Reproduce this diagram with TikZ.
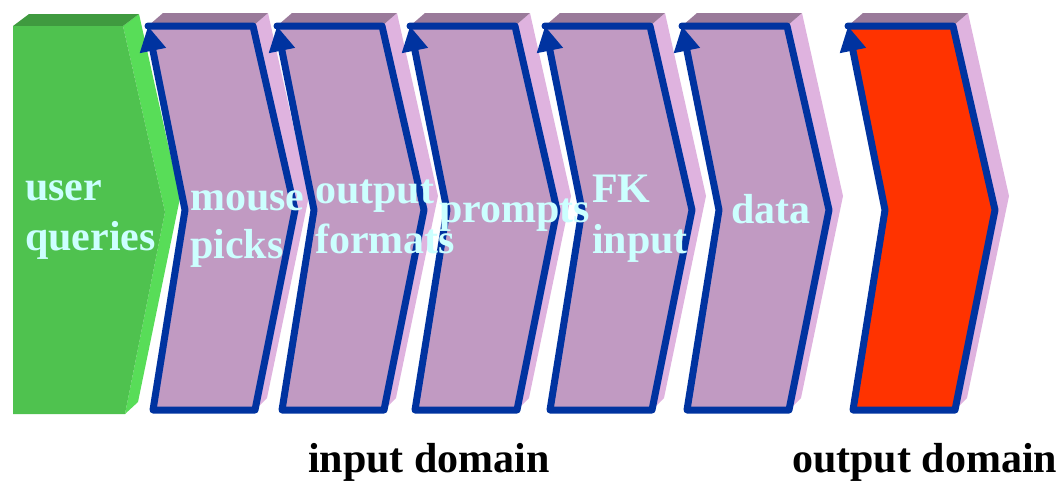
\documentclass[tikz,border=0pt]{standalone}
\usepackage{fontspec}
\setmainfont{Liberation Serif}
\usetikzlibrary{arrows.meta}

\definecolor{chevfront}{HTML}{C19AC2}
\definecolor{chevside}{HTML}{DFB3DF}
\definecolor{chevtop}{HTML}{9A7A9A}
\definecolor{edgeblue}{HTML}{0033A0}
\definecolor{labelcyan}{HTML}{CCFFFF}
\definecolor{greenfront}{HTML}{4FC24F}
\definecolor{greenside}{HTML}{58DD58}
\definecolor{greentop}{HTML}{3F9A3F}
\definecolor{outred}{HTML}{FF3300}

\tikzset{
  chevedge/.style={draw=edgeblue, line width=7pt, line join=round, line cap=round,
    -{Triangle[length=25pt,width=25pt]}},
  steplabel/.style={anchor=base west, inner sep=0pt, text=labelcyan,
    font=\fontsize{42}{50}\selectfont\bfseries},
  domainlabel/.style={anchor=base west, inner sep=0pt, text=black,
    font=\fontsize{42}{50}\selectfont\bfseries},
}

% one extruded chevron: #1 = left x of the front face, #2 = front colour
\newcommand{\drawchevron}[2]{%
  \begin{scope}[shift={(#1,0)}]
    \fill[chevside] (105,26) -- (120,13) -- (161,196) -- (119,398) -- (107,410) -- (147,210) -- cycle;
    \fill[chevtop] (0,26) -- (15,13) -- (120,13) -- (105,26) -- cycle;
    \fill[#2] (0,26) -- (105,26) -- (147,210) -- (107,410) -- (5,410) -- (37,210) -- cycle;
    \draw[chevedge] (0,26) -- (105,26) -- (147,210) -- (107,410) -- (5,410) -- (37,210) -- (0,26);
  \end{scope}}

\begin{document}
\begin{tikzpicture}[x=1pt, y=-1pt]
  \useasboundingbox (0,0) rectangle (1056,480);

  % green start block
  \fill[greenside] (123,26) -- (139,14) -- (180,198) -- (138,402) -- (125,414) -- (165,212) -- cycle;
  \fill[greentop] (13,26) -- (29,14) -- (139,14) -- (123,26) -- cycle;
  \fill[greenfront] (13,26) -- (123,26) -- (165,212) -- (125,414) -- (13,414) -- cycle;

  % input-domain chevrons
  \drawchevron{148}{chevfront}
  \drawchevron{277}{chevfront}
  \drawchevron{410}{chevfront}
  \drawchevron{545}{chevfront}
  \drawchevron{682}{chevfront}

  % output-domain chevron
  \drawchevron{848}{outred}

  % step labels
  \node[steplabel] (user)    at (25,200)  {user};
  \node[steplabel] (queries) at (25,250)  {queries};
  \node[steplabel] (mouse)   at (190,210) {mouse};
  \node[steplabel] (picks)   at (190,258) {picks};
  \node[steplabel] (output)  at (315,203) {output};
  \node[steplabel] (formats) at (315,253) {formats};
  \node[steplabel] (prompts) at (439,222) {prompts};
  \node[steplabel] (fk)      at (592,202) {FK};
  \node[steplabel] (fkinput) at (592,253) {input};
  \node[steplabel] (data)    at (731,223) {data};

  % domain captions
  \node[domainlabel] (indomain)  at (308,472) {input domain};
  \node[domainlabel] (outdomain) at (792,472) {output domain};
\end{tikzpicture}
\end{document}
